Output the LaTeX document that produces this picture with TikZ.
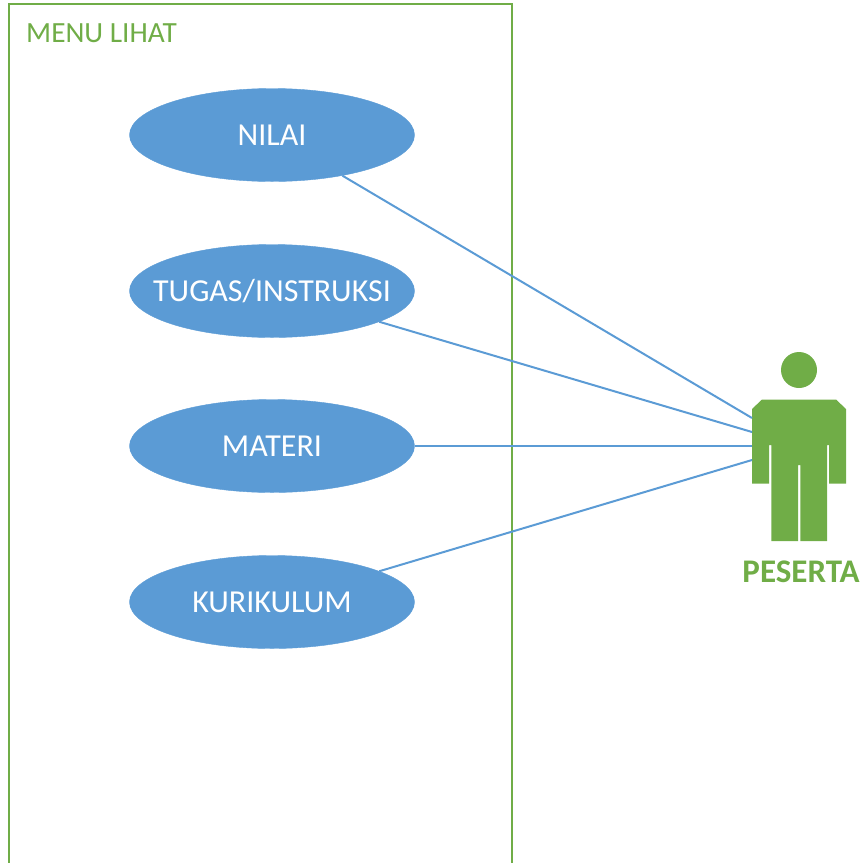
\documentclass[tikz,border=0pt]{standalone}
\usepackage{fontspec}
\setmainfont{Carlito}
\usetikzlibrary{shapes,positioning}
\definecolor{menublue}{HTML}{5B9BD5}
\definecolor{menugreen}{HTML}{70AD47}
\tikzset{
    usecase/.style={draw=menublue,fill=menublue,ellipse,inner ysep=0pt,inner xsep=-25pt,minimum width=285pt,minimum height=93pt,text=white,font=\fontsize{32}{38}\selectfont},
    link/.style={draw=menublue,line width=2pt},
    frame/.style={draw=menugreen,line width=2pt},
    actorbody/.style={fill=menugreen,draw=none}
}
\begin{document}
\begin{tikzpicture}[x=1pt,y=-1pt]
    \useasboundingbox (0,0) rectangle (861,863);

    \draw[frame] (9,863) -- (9,4) -- (512,4) -- (512,863);
    \node[text=menugreen,anchor=west,inner sep=0pt,font=\fontsize{29.3}{35}\selectfont] (menu) at (26,33) {MENU LIHAT};

    \node[usecase] (nilai) at (272,135) {NILAI};
    \node[usecase] (tugas) at (272,291) {TUGAS/INSTRUKSI};
    \node[usecase] (materi) at (272,446) {MATERI};
    \node[usecase] (kurikulum) at (272,602) {KURIKULUM};

    % actor
    \fill[actorbody] (799,370) circle (18);
    \fill[actorbody] (752,409) -- (762,399.5) -- (836,399.5) -- (846,409) -- (846,483.5) -- (829,483.5)
        -- (829,445) -- (827,445) -- (827,541) -- (800.3,541) -- (800.3,465) -- (798,465) -- (798,541)
        -- (771.3,541) -- (771.3,445) -- (769,445) -- (769,483.5) -- (752,483.5) -- cycle;
    \node[text=menugreen,font=\bfseries\fontsize{33}{40}\selectfont,inner sep=0pt] (peserta) at (801,572) {PESERTA};

    \coordinate (hand1) at (752,418);
    \coordinate (hand2) at (752,432);
    \coordinate (hand3) at (752,446);
    \coordinate (hand4) at (752,460);

    \draw[link] (nilai.-30) -- (hand1);
    \draw[link] (tugas.-16) -- (hand2);
    \draw[link] (materi.east) -- (hand3);
    \draw[link] (kurikulum.16) -- (hand4);
\end{tikzpicture}
\end{document}
